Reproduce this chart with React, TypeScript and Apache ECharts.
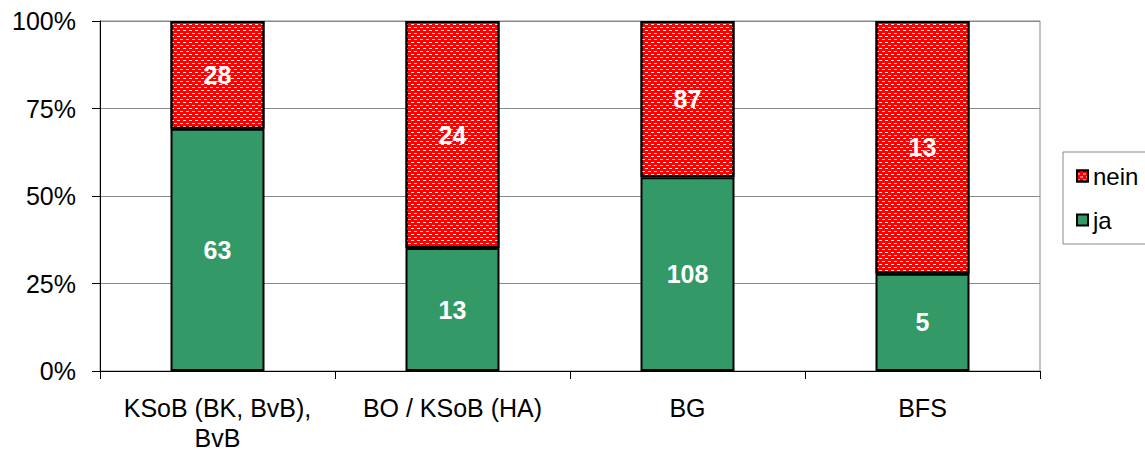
import React, { useEffect, useRef } from "react";
import * as echarts from "echarts";

const categories = ["KSoB (BK, BvB),\nBvB", "BO / KSoB (HA)", "BG", "BFS"];
const jaCounts = [63, 13, 108, 5];
const neinCounts = [28, 24, 87, 13];
const yTicks = [0, 25, 50, 75, 100];

const FONT = "'Liberation Sans', Arial, sans-serif";

export default function App() {
  const ref = useRef<HTMLDivElement>(null);
  useEffect(() => {
    if (!ref.current) return;
    document.body.style.margin = "0";
    const chart = echarts.init(ref.current, null, { renderer: "svg" });
    const totals = jaCounts.map((v, i) => v + neinCounts[i]);
    const jaData = jaCounts.map((v, i) => ({ value: (v / totals[i]) * 100, count: v }));
    const neinData = neinCounts.map((v, i) => ({ value: (v / totals[i]) * 100, count: v }));
    const labelCfg = {
      show: true,
      position: "inside",
      color: "#fff",
      fontWeight: "bold",
      fontSize: 25,
      fontFamily: FONT,
      formatter: (p: any) => String(p.data.count),
    };
    chart.setOption({
      animation: false,
      textStyle: { fontFamily: FONT },
      grid: { left: 100, right: 105, top: 21, bottom: 82, show: true, borderColor: "#888", borderWidth: 1 },
      legend: {
        data: ["nein", "ja"],
        orient: "vertical",
        left: 1063,
        top: 152,
        padding: [12, 40, 12, 13],
        itemGap: 20,
        itemWidth: 11,
        itemHeight: 11,
        icon: "rect",
        borderColor: "#888",
        borderWidth: 1,
        itemStyle: { borderColor: "#000", borderWidth: 2 },
        textStyle: { fontSize: 24, color: "#000", padding: [0, 0, 0, 0], fontFamily: FONT },
      },
      xAxis: {
        type: "category",
        data: categories,
        axisLine: { lineStyle: { color: "#000", width: 1 } },
        axisTick: { show: true, length: 8, lineStyle: { color: "#000" } },
        axisLabel: { interval: 0, fontSize: 25, color: "#000", margin: 22, lineHeight: 30, fontFamily: FONT },
      },
      yAxis: {
        type: "value",
        min: 0,
        max: 100,
        interval: 25,
        axisLine: { show: true, lineStyle: { color: "#000", width: 1 } },
        axisTick: { show: true, length: 8, lineStyle: { color: "#000" } },
        axisLabel: {
          fontSize: 25,
          color: "#000",
          margin: 24,
          fontFamily: FONT,
          formatter: (v: number) => (yTicks.includes(v) ? v + "%" : ""),
        },
        splitLine: { show: true, lineStyle: { color: "#888", width: 1 } },
      },
      series: [
        {
          name: "ja",
          type: "bar",
          stack: "s",
          barWidth: "40%",
          data: jaData,
          itemStyle: { color: "#339966", borderColor: "#000", borderWidth: 2 },
          label: labelCfg,
        },
        {
          name: "nein",
          type: "bar",
          stack: "s",
          barWidth: "40%",
          data: neinData,
          itemStyle: {
            color: "#ff0000",
            borderColor: "#000",
            borderWidth: 2,
            decal: {
              symbol: "rect",
              color: "rgba(255,255,255,0.9)",
              symbolSize: 1,
              dashArrayX: [[3, 3], [0, 3, 3, 0]],
              dashArrayY: [1, 2],
              rotation: 0,
            },
          },
          label: labelCfg,
        },
      ],
    });
    return () => chart.dispose();
  }, []);
  return <div ref={ref} style={{ width: 1145, height: 453 }} />;
}
